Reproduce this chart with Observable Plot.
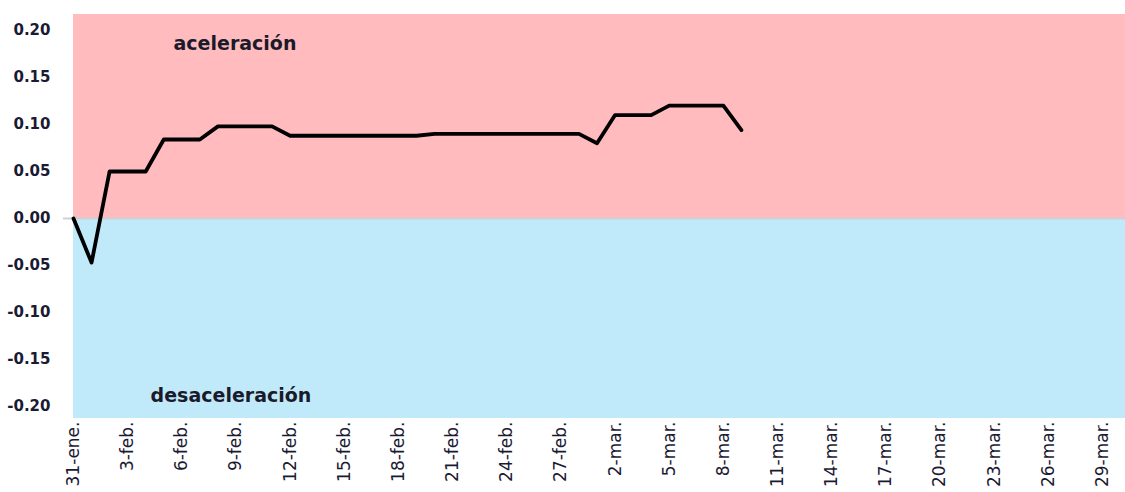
<!DOCTYPE html>
<html>
<head>
<meta charset="utf-8">
<script src="https://cdn.jsdelivr.net/npm/d3@7"></script>
<script src="https://cdn.jsdelivr.net/npm/@observablehq/plot@0.6"></script>
<style>
  html, body { margin: 0; padding: 0; background: #fff; }
  #chart svg { display: block; }
</style>
</head>
<body>
<div id="chart"></div>
<script>
// ---- data ----
const dates = [
  "2021-01-31","2021-02-01","2021-02-02","2021-02-03","2021-02-04","2021-02-05",
  "2021-02-06","2021-02-07","2021-02-08","2021-02-09","2021-02-10","2021-02-11",
  "2021-02-12","2021-02-13","2021-02-14","2021-02-15","2021-02-16","2021-02-17",
  "2021-02-18","2021-02-19","2021-02-20","2021-02-21","2021-02-22","2021-02-23",
  "2021-02-24","2021-02-25","2021-02-26","2021-02-27","2021-02-28","2021-03-01",
  "2021-03-02","2021-03-03","2021-03-04","2021-03-05","2021-03-06","2021-03-07",
  "2021-03-08","2021-03-09"
];
const values = [
  0.000, -0.047, 0.050, 0.050, 0.050, 0.084,
  0.084, 0.084, 0.098, 0.098, 0.098, 0.098,
  0.088, 0.088, 0.088, 0.088, 0.088, 0.088,
  0.088, 0.088, 0.090, 0.090, 0.090, 0.090,
  0.090, 0.090, 0.090, 0.090, 0.090, 0.080,
  0.110, 0.110, 0.110, 0.120, 0.120, 0.120,
  0.120, 0.094
];
const xTickDates = [
  "2021-01-31","2021-02-03","2021-02-06","2021-02-09","2021-02-12","2021-02-15",
  "2021-02-18","2021-02-21","2021-02-24","2021-02-27","2021-03-02","2021-03-05",
  "2021-03-08","2021-03-11","2021-03-14","2021-03-17","2021-03-20","2021-03-23",
  "2021-03-26","2021-03-29"
];
const xTickLabels = [
  "31-ene.","3-feb.","6-feb.","9-feb.","12-feb.","15-feb.",
  "18-feb.","21-feb.","24-feb.","27-feb.","2-mar.","5-mar.",
  "8-mar.","11-mar.","14-mar.","17-mar.","20-mar.","23-mar.",
  "26-mar.","29-mar."
];
const yTicks = [-0.20, -0.15, -0.10, -0.05, 0.00, 0.05, 0.10, 0.15, 0.20];
const yDomain = [-0.2128, 0.217];
const xDomain = ["2021-01-31", "2021-03-29"];
const zones = [
  {name: "aceleración", y1: 0, y2: 0.217, fill: "#ffbbbd"},
  {name: "desaceleración", y1: -0.2128, y2: 0, fill: "#c0eafa"}
];
const annotations = [
  {text: "aceleración", date: "2021-02-09", y: 0.186, shift: -1},
  {text: "desaceleración", date: "2021-02-09", y: -0.189, shift: -5}
];

// ---- build ----
const parse = d3.utcParse("%Y-%m-%d");
const series = dates.map((d, i) => ({date: parse(d), value: values[i]}));
const tickDates = xTickDates.map(parse);
const labelByTime = new Map(tickDates.map((d, i) => [+d, xTickLabels[i]]));

const chart = Plot.plot({
  width: 1125,
  height: 492,
  marginLeft: 73,
  marginRight: 0,
  marginTop: 14,
  marginBottom: 74,
  style: {background: "#fff", color: "#111"},
  x: {type: "utc", domain: xDomain.map(parse), range: [73, 1102]},
  y: {domain: yDomain},
  marks: [
    Plot.rect(zones, {y1: "y1", y2: "y2", fill: "fill"}),
    Plot.ruleY([0], {stroke: "#d0d0d0", strokeWidth: 2}),
    Plot.axisY({
      ticks: [0], tickSize: 10, tickFormat: () => "",
      stroke: "#d0d0d0", strokeWidth: 2
    }),
    Plot.axisY({
      ticks: yTicks, tickSize: 0, tickPadding: 23,
      tickFormat: d => (Math.abs(d) < 1e-9 ? 0 : d).toFixed(2),
      fontSize: 15, fontWeight: "bold", fontFamily: "DejaVu Sans",
      fill: "#1a1a33", label: null
    }),
    Plot.axisX({
      ticks: tickDates, tickSize: 0, tickPadding: 3, tickRotate: -90,
      tickFormat: d => labelByTime.get(+d) ?? "",
      fontSize: 17, fontFamily: "DejaVu Sans", fill: "#1a1a33", label: null
    }),
    Plot.line(series, {
      x: "date", y: "value", stroke: "#000", strokeWidth: 3.8,
      strokeLinejoin: "round"
    }),
    ...annotations.map(a => Plot.text([a], {
      x: d => parse(d.date), y: "y", text: "text", dx: a.shift,
      fontSize: 19, fontWeight: "bold", fontFamily: "DejaVu Sans",
      fill: "#1a1a2a"
    }))
  ]
});

document.getElementById("chart").appendChild(chart);
</script>
</body>
</html>
